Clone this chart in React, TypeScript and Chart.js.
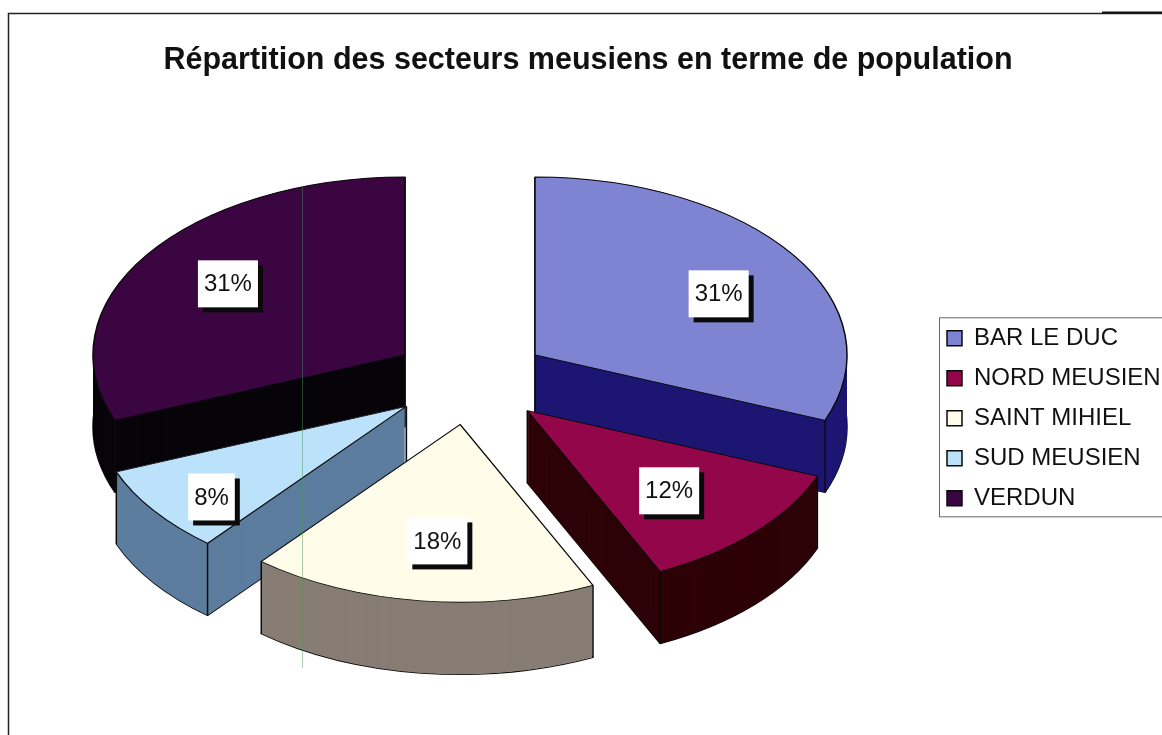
import React, { useEffect, useRef } from "react";
import { Chart, registerables } from "chart.js";

Chart.register(...registerables);

const titleText = "Répartition des secteurs meusiens en terme de population";
const categories = ["BAR LE DUC", "NORD MEUSIEN", "SAINT MIHIEL", "SUD MEUSIEN", "VERDUN"];
const shares = [31, 12, 18, 8, 31];
const topColors = ["#7f84d2", "#94064a", "#fffde9", "#bce2fb", "#3a0540"];
const wallColors = ["#1d1672", "#2d0206", "#877d74", "#5c7d9e", "#08050a"];
const labelRadius = [0.7, 0.65, 0.66, 0.8, 0.69];
const labelNudgeX = [3, -6, 3, 7, 1];
const labelNudgeY = [9, 1, 0, 7, -2];
const paintOrder = [0, 4, 3, 1, 2];

const FONT = '"Liberation Sans", Arial, sans-serif';
const SQUASH = 0.57;
const CENTER_X = 470;
const CENTER_Y = 380;
const DEPTH = 72;
const EXPLODE = 78.6;
const RADIUS = 312;
const LEGEND_PADDING = 16;
const LEGEND_MARKER_X = 947;

const pie3d = {
  id: "pie3d",
  afterLayout(chart: any) {
    chart.legend.left = LEGEND_MARKER_X - LEGEND_PADDING;
  },
  beforeDraw(chart: any) {
    const { ctx } = chart;
    ctx.save();
    ctx.fillStyle = "#fff";
    ctx.fillRect(0, 0, chart.width, chart.height);
    ctx.strokeStyle = "#222";
    ctx.lineWidth = 1.5;
    ctx.beginPath();
    ctx.moveTo(8.5, 735);
    ctx.lineTo(8.5, 13.5);
    ctx.lineTo(1176, 13.5);
    ctx.stroke();
    ctx.lineWidth = 2;
    ctx.strokeStyle = "#111";
    ctx.beginPath();
    ctx.moveTo(1102, 12.5);
    ctx.lineTo(1176, 12.5);
    ctx.stroke();
    const boxes = chart.legend.legendHitBoxes;
    const first = boxes[0];
    const last = boxes[boxes.length - 1];
    ctx.strokeStyle = "#666";
    ctx.lineWidth = 1;
    ctx.strokeRect(939.5, first.top - 8.5, 260, last.top + last.height - first.top + 15);
    ctx.restore();
  },
  beforeDatasetsDraw(chart: any) {
    const { ctx } = chart;
    const arcs = chart.getDatasetMeta(0).data;
    const positions: { x: number; y: number; mid: number }[] = [];
    arcs.forEach((arc: any) => {
      const mid = (arc.startAngle + arc.endAngle) / 2;
      positions.push({
        x: CENTER_X + Math.cos(mid) * EXPLODE,
        y: CENTER_Y + Math.sin(mid) * EXPLODE * SQUASH,
        mid,
      });
    });
    const wedge = (i: number, dy: number) => {
      const a = arcs[i];
      const p = positions[i];
      ctx.beginPath();
      ctx.moveTo(p.x, p.y + dy);
      ctx.ellipse(p.x, p.y + dy, a.outerRadius, a.outerRadius * SQUASH, 0, a.startAngle, a.endAngle);
      ctx.closePath();
    };
    paintOrder.forEach((i) => {
      const a = arcs[i];
      const p = positions[i];
      ctx.save();
      ctx.lineJoin = "round";
      ctx.strokeStyle = "#0a0a0a";
      ctx.lineWidth = 1.5;
      wedge(i, DEPTH);
      ctx.stroke();
      ctx.fillStyle = wallColors[i];
      for (let d = DEPTH; d >= 0; d -= 1) {
        wedge(i, d);
        ctx.fill();
      }
      const corners = [
        [p.x, p.y],
        [p.x + Math.cos(a.startAngle) * a.outerRadius, p.y + Math.sin(a.startAngle) * a.outerRadius * SQUASH],
        [p.x + Math.cos(a.endAngle) * a.outerRadius, p.y + Math.sin(a.endAngle) * a.outerRadius * SQUASH],
      ];
      corners.forEach(([x, y]) => {
        ctx.beginPath();
        ctx.moveTo(x, y);
        ctx.lineTo(x, y + DEPTH);
        ctx.stroke();
      });
      ctx.translate(p.x - a.x, p.y);
      ctx.scale(1, SQUASH);
      ctx.translate(0, -a.y);
      a.draw(ctx);
      ctx.restore();
    });

    ctx.save();
    ctx.strokeStyle = "rgba(70,150,80,0.45)";
    ctx.lineWidth = 1;
    ctx.beginPath();
    ctx.moveTo(302.5, 186);
    ctx.lineTo(302.5, 668);
    ctx.stroke();
    ctx.restore();

    ctx.save();
    ctx.font = `24px ${FONT}`;
    ctx.textAlign = "center";
    ctx.textBaseline = "middle";
    arcs.forEach((a: any, i: number) => {
      const p = positions[i];
      const r = a.outerRadius * labelRadius[i];
      const x = p.x + Math.cos(p.mid) * r + labelNudgeX[i];
      const y = p.y + Math.sin(p.mid) * r * SQUASH + labelNudgeY[i];
      const text = `${shares[i]}%`;
      const w = ctx.measureText(text).width + 12;
      const h = 47;
      ctx.fillStyle = "#0a0a0a";
      ctx.fillRect(x - w / 2 + 5, y - h / 2 + 5, w, h);
      ctx.fillStyle = "#fff";
      ctx.fillRect(x - w / 2, y - h / 2, w, h);
      ctx.fillStyle = "#111";
      ctx.fillText(text, x, y + 1);
    });
    ctx.restore();
    return false;
  },
};

export default function App() {
  const ref = useRef<HTMLCanvasElement>(null);
  useEffect(() => {
    const chart = new Chart(ref.current as HTMLCanvasElement, {
      type: "pie",
      data: {
        labels: categories,
        datasets: [
          {
            data: shares,
            backgroundColor: topColors,
            borderColor: "#0a0a0a",
            borderWidth: 1.5,
            radius: RADIUS,
          } as any,
        ],
      },
      options: {
        responsive: false,
        animation: false,
        events: [],
        layout: { padding: 0 },
        plugins: {
          tooltip: { enabled: false },
          title: {
            display: true,
            text: titleText,
            color: "#111",
            font: { family: FONT, size: 30.5, weight: "bold" },
            padding: { top: 42, bottom: 23 },
          },
          legend: {
            display: true,
            position: "right",
            fullSize: false,
            labels: {
              color: "#111",
              boxWidth: 15,
              boxHeight: 15,
              padding: LEGEND_PADDING,
              font: { family: FONT, size: 24 },
            },
          },
        },
      },
      plugins: [pie3d],
    } as any);
    return () => chart.destroy();
  }, []);
  return (
    <div style={{ position: "fixed", left: 0, top: 0, width: 1162, height: 735, overflow: "hidden", background: "#fff" }}>
      <canvas ref={ref} width={1176} height={735} style={{ display: "block" }} />
    </div>
  );
}
